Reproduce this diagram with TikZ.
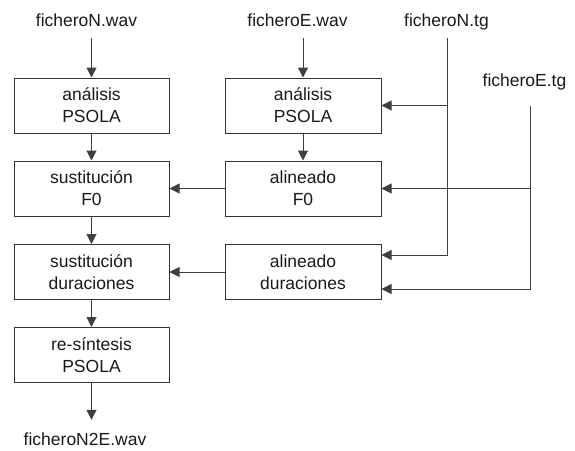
\documentclass[tikz,border=0pt]{standalone}
\usepackage{fontspec}
\setmainfont{Liberation Sans}
\usetikzlibrary{arrows.meta}
\begin{document}
\begin{tikzpicture}[x=1pt,y=-1pt,
  every node/.style={font=\fontsize{17.5}{22}\selectfont, text=black!90},
  procbox/.style={draw=black!80, line width=1pt, minimum width=155pt, minimum height=55pt, align=center, inner sep=0pt},
  lbl/.style={anchor=base, text height=13pt, text depth=4pt, inner sep=8pt},
  ln/.style={draw=black!75, line width=1pt},
  arr/.style={ln, -{Triangle[length=10pt,width=10pt]}}
]
\useasboundingbox (0,0) rectangle (575,450);

\node[procbox] (b1) at (91.5,105.5) {análisis\\PSOLA};
\node[procbox] (b2) at (91.5,188.5) {sustitución\\F0};
\node[procbox] (b3) at (91.5,272) {sustitución\\duraciones};
\node[procbox] (b4) at (91.5,355) {re-síntesis\\PSOLA};
\node[procbox, minimum width=156pt] (r1) at (303,105.5) {análisis\\PSOLA};
\node[procbox, minimum width=156pt] (r2) at (303,188.5) {alineado\\F0};
\node[procbox, minimum width=156pt] (r3) at (303,272) {alineado\\duraciones};

\node[lbl] (inN) at (86.5,26) {ficheroN.wav};
\node[lbl] (inE) at (297.5,26) {ficheroE.wav};
\node[lbl] (nTg) at (446.5,26) {ficheroN.tg};
\node[lbl] (eTg) at (524.5,86) {ficheroE.tg};
\node[lbl, inner ysep=12pt] (out) at (85,445) {ficheroN2E.wav};

\coordinate (nTop) at ([xshift=0.5pt]nTg.south);
\coordinate (eTop) at ([xshift=5.5pt,yshift=-8pt]eTg.south);

\draw[arr] (inN.south -| b1.north) -- (b1.north);
\draw[arr] (b1) -- (b2);
\draw[arr] (b2) -- (b3);
\draw[arr] (b3) -- (b4);
\draw[arr] (b4.south) -- (out.north -| b4.south);
\draw[arr] (inE.south -| r1.north) -- (r1.north);
\draw[arr] (r1) -- (r2);
\draw[arr] (r2) -- (b2);
\draw[arr] (r3) -- (b3);
\draw[arr] (nTop) |- ([yshift=-11pt]r3.north east);
\draw[arr] (nTop |- r1.east) -- (r1.east);
\draw[arr] (eTop) |- ([yshift=11pt]r3.south east);
\draw[arr] (eTop |- r2.east) -- (r2.east);
\end{tikzpicture}
\end{document}
